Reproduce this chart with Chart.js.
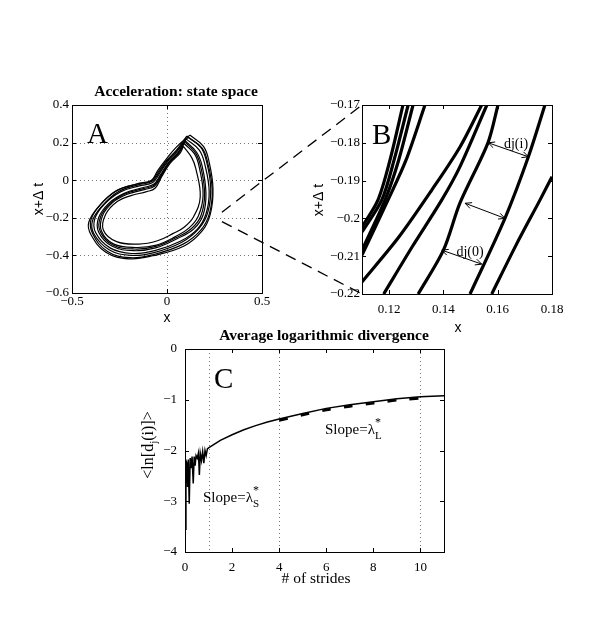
<!DOCTYPE html>
<html>
<head>
<meta charset="utf-8">
<script src="https://cdn.jsdelivr.net/npm/chart.js@4.4.0/dist/chart.umd.min.js"></script>
<style>
  body { margin: 0; background: #fff; width: 600px; height: 638px; position: relative; overflow: hidden; }
  canvas { position: absolute; }
</style>
</head>
<body>
<canvas id="chartA" width="300" height="290" style="left:0px;top:60px"></canvas>
<canvas id="chartB" width="300" height="290" style="left:300px;top:60px"></canvas>
<canvas id="chartC" width="400" height="290" style="left:100px;top:330px"></canvas>
<canvas id="overlay" width="600" height="638" style="left:0;top:0;pointer-events:none"></canvas>
<script>
// Panel A: state space loops (x, x+dt)
const aLoop1 = [[0.104,0.235],[0.185,0.17],[0.215,0.09],[0.238,-0.05],[0.224,-0.175],[0.18,-0.263],[0.085,-0.34],[-0.07,-0.395],[-0.195,-0.412],[-0.315,-0.378],[-0.392,-0.283],[-0.4,-0.21],[-0.35,-0.13],[-0.262,-0.055],[-0.16,-0.02],[-0.08,0.0],[-0.046,0.045],[-0.002,0.105],[0.05,0.16],[0.104,0.235]];
const aLoop2 = [[0.11,0.228],[0.178,0.175],[0.208,0.1],[0.23,-0.04],[0.215,-0.17],[0.17,-0.255],[0.078,-0.33],[-0.068,-0.385],[-0.19,-0.4],[-0.305,-0.37],[-0.385,-0.285],[-0.392,-0.215],[-0.34,-0.135],[-0.255,-0.06],[-0.152,-0.025],[-0.078,-0.006],[-0.043,0.04],[0.0,0.102],[0.052,0.158],[0.11,0.228]];
const aLoop3 = [[0.1,0.22],[0.17,0.16],[0.2,0.08],[0.222,-0.06],[0.205,-0.18],[0.16,-0.26],[0.07,-0.325],[-0.065,-0.375],[-0.185,-0.39],[-0.3,-0.36],[-0.375,-0.28],[-0.38,-0.205],[-0.33,-0.128],[-0.245,-0.062],[-0.145,-0.03],[-0.075,-0.012],[-0.04,0.035],[0.004,0.1],[0.055,0.155],[0.1,0.22]];
const aLoop4 = [[0.095,0.21],[0.155,0.15],[0.185,0.075],[0.205,-0.07],[0.19,-0.185],[0.14,-0.26],[0.055,-0.31],[-0.06,-0.36],[-0.175,-0.375],[-0.29,-0.35],[-0.36,-0.275],[-0.36,-0.2],[-0.305,-0.122],[-0.225,-0.07],[-0.13,-0.04],[-0.07,-0.022],[-0.035,0.028],[0.008,0.095],[0.06,0.15],[0.095,0.21]];
const aLoop5 = [[0.09,0.195],[0.145,0.14],[0.17,0.068],[0.19,-0.078],[0.165,-0.19],[0.115,-0.255],[0.045,-0.3],[-0.055,-0.345],[-0.165,-0.358],[-0.28,-0.34],[-0.345,-0.27],[-0.34,-0.19],[-0.285,-0.118],[-0.21,-0.075],[-0.12,-0.05],[-0.066,-0.032],[-0.03,0.022],[0.012,0.092],[0.064,0.147],[0.09,0.195]];
const aLoop6 = [[0.086,0.18],[0.13,0.12],[0.152,0.06],[0.175,-0.088],[0.14,-0.194],[0.09,-0.25],[0.033,-0.283],[-0.05,-0.322],[-0.15,-0.34],[-0.265,-0.327],[-0.335,-0.265],[-0.322,-0.18],[-0.26,-0.112],[-0.19,-0.082],[-0.107,-0.061],[-0.063,-0.043],[-0.028,0.019],[0.016,0.09],[0.068,0.143],[0.086,0.18]];
const aLoop7 = [[0.12,0.24],[0.192,0.18],[0.222,0.095],[0.242,-0.045],[0.228,-0.18],[0.185,-0.27],[0.09,-0.35],[-0.075,-0.402],[-0.2,-0.418],[-0.322,-0.383],[-0.4,-0.29],[-0.412,-0.225],[-0.36,-0.14],[-0.27,-0.058],[-0.165,-0.022],[-0.085,-0.004],[-0.05,0.05],[-0.006,0.11],[0.048,0.175],[0.12,0.24]];
const aLoop8 = [[0.092,0.205],[0.15,0.145],[0.178,0.07],[0.198,-0.075],[0.178,-0.19],[0.128,-0.258],[0.05,-0.305],[-0.058,-0.352],[-0.17,-0.366],[-0.285,-0.345],[-0.352,-0.272],[-0.35,-0.195],[-0.295,-0.12],[-0.218,-0.072],[-0.125,-0.045],[-0.068,-0.027],[-0.032,0.025],[0.01,0.094],[0.062,0.15],[0.092,0.205]];
const aXTicks = [-0.5, 0, 0.5];
const aYTicks = [-0.6, -0.4, -0.2, 0, 0.2, 0.4];

// Panel B: zoomed trajectories
const bLines = [
  [[0.11,-0.2023],[0.1159,-0.1951],[0.1203,-0.1846],[0.1251,-0.17]],
  [[0.11,-0.2036],[0.1173,-0.1951],[0.1218,-0.1846],[0.127,-0.17]],
  [[0.11,-0.2084],[0.1185,-0.1951],[0.1235,-0.1846],[0.1288,-0.17]],
  [[0.11,-0.2097],[0.1196,-0.1951],[0.1262,-0.1846],[0.1332,-0.17]],
  [[0.11,-0.2168],[0.1235,-0.205],[0.1357,-0.1925],[0.1461,-0.1811],[0.1541,-0.17]],
  [[0.118,-0.22],[0.1285,-0.2075],[0.1394,-0.1951],[0.1461,-0.1863],[0.156,-0.17]],
  [[0.1307,-0.22],[0.14,-0.2084],[0.1461,-0.1959],[0.1564,-0.18],[0.1601,-0.17]],
  [[0.1498,-0.22],[0.1627,-0.1999],[0.1713,-0.1837],[0.1774,-0.17]],
  [[0.1578,-0.22],[0.1668,-0.207],[0.1756,-0.1951],[0.18,-0.189]]
];
const bArrowFrom = [[0.1565,-0.18],[0.148,-0.196],[0.1394,-0.2084]];
const bArrowTo = [[0.1713,-0.1837],[0.1627,-0.2],[0.1541,-0.2121]];
const bXTicks = [0.12, 0.14, 0.16, 0.18];
const bYTicks = [-0.22, -0.21, -0.2, -0.19, -0.18, -0.17];

// Panel C: average log divergence vs strides
const strides = [0,0.04,0.08,0.11,0.14,0.18,0.22,0.26,0.3,0.35,0.39,0.43,0.47,0.52,0.57,0.61,0.65,0.7,0.75,0.8,0.85,0.9,0.95,1.0,1.5,2,2.5,3,3.5,4,5,6,7,8,9,10,11];
const lnDiv = [-3.55,-2.2,-2.25,-2.72,-2.18,-3.05,-2.15,-2.35,-2.12,-2.65,-2.12,-2.3,-2.1,-2.15,-2.05,-2.48,-2.06,-2.2,-2.02,-2.25,-2.0,-2.1,-1.97,-1.95,-1.8,-1.69,-1.59,-1.51,-1.44,-1.38,-1.27,-1.17,-1.1,-1.04,-0.98,-0.94,-0.92];
const slopeStrides = [4, 5, 6, 7, 8, 9, 10];
const slopeVals = [-1.41, -1.3, -1.2, -1.13, -1.07, -1.01, -0.97];
const cMarkers = [1, 4, 10];
const cXTicks = [0, 2, 4, 6, 8, 10];
const cYTicks = [-4, -3, -2, -1, 0];

// zoom window that panel B shows, drawn as dashed lines
const zoomFromX = 0.289;
const zoomY = [-0.17, -0.22];

const SERIF = 'Liberation Serif';
const SANS = 'Liberation Sans';

function fmt(v) {
  return String(Number(v.toFixed(3))).replace('-', '\u2212');
}

function toPts(arr) {
  return arr.map(p => ({ x: p[0], y: p[1] }));
}

function axis(min, max, ticks, size, pad, horizontal) {
  return {
    type: 'linear', min, max,
    grid: { display: false, drawTicks: false },
    border: { display: false },
    ticks: { color: '#000', font: { family: SERIF, size: 13 }, padding: pad, autoSkip: false, maxRotation: 0, callback: v => fmt(v) },
    afterBuildTicks: s => { s.ticks = ticks.map(v => ({ value: v })); },
    afterFit: s => { if (horizontal) s.height = size; else s.width = size; }
  };
}

// draws text made of pieces: [text, size, dy, noAdvance]
function drawRich(ctx, t, offX, offY) {
  ctx.save();
  ctx.translate(t.x - offX, t.y - offY);
  if (t.rotate) ctx.rotate(t.rotate);
  ctx.fillStyle = '#000';
  ctx.textBaseline = 'alphabetic';
  const fam = t.family || SERIF;
  const weight = t.bold ? 'bold ' : '';
  let total = 0;
  t.parts.forEach(p => {
    ctx.font = weight + p[1] + 'px "' + fam + '"';
    if (!p[3]) total += ctx.measureText(p[0]).width;
  });
  let cx = t.align === 'left' ? 0 : -total / 2;
  t.parts.forEach(p => {
    ctx.font = weight + p[1] + 'px "' + fam + '"';
    ctx.fillText(p[0], cx, p[2] || 0);
    if (!p[3]) cx += ctx.measureText(p[0]).width;
  });
  ctx.restore();
}

function line(ctx, x1, y1, x2, y2) {
  ctx.beginPath();
  ctx.moveTo(x1, y1);
  ctx.lineTo(x2, y2);
  ctx.stroke();
}

function arrowHead(ctx, fx, fy, tx, ty) {
  const ang = Math.atan2(ty - fy, tx - fx);
  const len = 7, spread = 0.45;
  line(ctx, tx, ty, tx - len * Math.cos(ang - spread), ty - len * Math.sin(ang - spread));
  line(ctx, tx, ty, tx - len * Math.cos(ang + spread), ty - len * Math.sin(ang + spread));
}

// frame, inward ticks, dotted grid and the texts of one panel
function panelPlugin(cfg) {
  return {
    id: 'panel' + cfg.name,
    beforeDatasetsDraw(chart) {
      const { ctx, chartArea: a, scales: { x, y } } = chart;
      ctx.save();
      ctx.strokeStyle = '#777';
      ctx.lineWidth = 1;
      ctx.setLineDash([1, 3]);
      (cfg.gridX || []).forEach(v => {
        const px = Math.round(x.getPixelForValue(v)) + 0.5;
        line(ctx, px, a.top, px, a.bottom);
      });
      (cfg.gridY || []).forEach(v => {
        const py = Math.round(y.getPixelForValue(v)) + 0.5;
        line(ctx, a.left, py, a.right, py);
      });
      ctx.restore();
    },
    afterDatasetsDraw(chart) {
      const { ctx, chartArea: a, scales: { x, y } } = chart;
      ctx.save();
      ctx.strokeStyle = '#000';
      ctx.lineWidth = 1;
      ctx.strokeRect(Math.round(a.left) + 0.5, Math.round(a.top) + 0.5, Math.round(a.right - a.left), Math.round(a.bottom - a.top));
      const tl = 4;
      x.ticks.forEach(t => {
        const px = Math.round(x.getPixelForValue(t.value)) + 0.5;
        line(ctx, px, a.bottom, px, a.bottom - tl);
        line(ctx, px, a.top, px, a.top + tl);
      });
      y.ticks.forEach(t => {
        const py = Math.round(y.getPixelForValue(t.value)) + 0.5;
        line(ctx, a.left, py, a.left + tl, py);
        line(ctx, a.right, py, a.right - tl, py);
      });
      // double headed arrows (panel B)
      (cfg.arrowsFrom || []).forEach((f, i) => {
        const to = cfg.arrowsTo[i];
        const x1 = x.getPixelForValue(f[0]), y1 = y.getPixelForValue(f[1]);
        const x2 = x.getPixelForValue(to[0]), y2 = y.getPixelForValue(to[1]);
        line(ctx, x1, y1, x2, y2);
        arrowHead(ctx, x1, y1, x2, y2);
        arrowHead(ctx, x2, y2, x1, y1);
      });
      ctx.restore();
      cfg.texts.forEach(t => drawRich(ctx, t, cfg.left, cfg.top));
    }
  };
}

const baseOpts = {
  responsive: false,
  animation: false,
  plugins: { legend: { display: false }, tooltip: { enabled: false } },
  elements: { point: { radius: 0 } }
};

// ---- Panel A
const chartA = new Chart(document.getElementById('chartA'), {
  type: 'scatter',
  data: {
    datasets: [aLoop1, aLoop2, aLoop3, aLoop4, aLoop5, aLoop6, aLoop7, aLoop8].map(l => ({
      data: toPts(l), showLine: true, borderColor: '#000', borderWidth: 1.2, tension: 0.4, pointRadius: 0
    }))
  },
  options: {
    ...baseOpts,
    layout: { padding: { top: 45, right: 38, left: 0, bottom: 0 } },
    scales: {
      x: axis(-0.5, 0.5, aXTicks, 57, 1, true),
      y: axis(-0.6, 0.4, aYTicks, 72, 3, false)
    }
  },
  plugins: [panelPlugin({
    name: 'A', left: 0, top: 60,
    gridX: [0], gridY: [-0.4, -0.2, 0, 0.2],
    texts: [
      { x: 176, y: 96, bold: true, parts: [['Acceleration: state space', 15.5]] },
      { x: 87, y: 143, align: 'left', parts: [['A', 29]] },
      { x: 167, y: 322, family: SANS, parts: [['x', 14]] },
      { x: 43, y: 199, rotate: -Math.PI / 2, family: SANS, parts: [['x+\u0394 t', 14]] }
    ]
  })]
});

// ---- Panel B
const chartB = new Chart(document.getElementById('chartB'), {
  type: 'scatter',
  data: {
    datasets: bLines.map(l => ({
      data: toPts(l), showLine: true, borderColor: '#000', borderWidth: 3.2, tension: 0.3, pointRadius: 0
    }))
  },
  options: {
    ...baseOpts,
    layout: { padding: { top: 45, right: 48, left: 0, bottom: 0 } },
    scales: {
      x: axis(0.11, 0.18, bXTicks, 56, 8, true),
      y: axis(-0.22, -0.17, bYTicks, 62, 2, false)
    }
  },
  plugins: [panelPlugin({
    name: 'B', left: 300, top: 60,
    arrowsFrom: bArrowFrom, arrowsTo: bArrowTo,
    texts: [
      { x: 372, y: 144, align: 'left', parts: [['B', 29]] },
      { x: 458, y: 332, family: SANS, parts: [['x', 14]] },
      { x: 323, y: 200, rotate: -Math.PI / 2, family: SANS, parts: [['x+\u0394 t', 14]] },
      { x: 516, y: 148, parts: [['dj(i)', 14]] },
      { x: 470, y: 256, parts: [['dj(0)', 14]] }
    ]
  })]
});

// ---- Panel C
const chartC = new Chart(document.getElementById('chartC'), {
  type: 'scatter',
  data: {
    datasets: [
      { data: strides.map((s, i) => ({ x: s, y: lnDiv[i] })), showLine: true, borderColor: '#000', borderWidth: 1.5, tension: 0, pointRadius: 0 },
      { data: slopeStrides.map((s, i) => ({ x: s, y: slopeVals[i] })), showLine: true, borderColor: '#000', borderWidth: 2.6, borderDash: [9, 13], tension: 0.3, pointRadius: 0 }
    ]
  },
  options: {
    ...baseOpts,
    layout: { padding: { top: 19, right: 56, left: 0, bottom: 0 } },
    scales: {
      x: axis(0, 11, cXTicks, 68, 8, true),
      y: axis(-4, 0, cYTicks, 85, 8, false)
    }
  },
  plugins: [panelPlugin({
    name: 'C', left: 100, top: 330,
    gridX: cMarkers,
    texts: [
      { x: 324, y: 340, bold: true, parts: [['Average logarithmic divergence', 15.5]] },
      { x: 214, y: 388, align: 'left', parts: [['C', 29]] },
      { x: 316, y: 583, parts: [['# of strides', 15.5]] },
      { x: 153, y: 445, rotate: -Math.PI / 2, parts: [['<ln[d', 16], ['j', 11, 4], ['(i)]>', 16]] },
      { x: 203, y: 502, align: 'left', parts: [['Slope=\u03bb', 15], ['*', 12, -8, true], ['S', 11, 5]] },
      { x: 325, y: 434, align: 'left', parts: [['Slope=\u03bb', 15], ['*', 12, -8, true], ['L', 11, 5]] }
    ]
  })]
});

// dashed lines from panel A to the corners of panel B
const ov = document.getElementById('overlay').getContext('2d');
ov.strokeStyle = '#000';
ov.lineWidth = 1.3;
ov.setLineDash([11, 7]);
zoomY.forEach(v => {
  const x1 = chartA.scales.x.getPixelForValue(zoomFromX);
  const y1 = chartA.scales.y.getPixelForValue(v) + 60;
  const x2 = chartB.scales.x.getPixelForValue(chartB.scales.x.min) + 300;
  const y2 = chartB.scales.y.getPixelForValue(v) + 60;
  line(ov, x1, y1, x2, y2);
});
</script>
</body>
</html>
